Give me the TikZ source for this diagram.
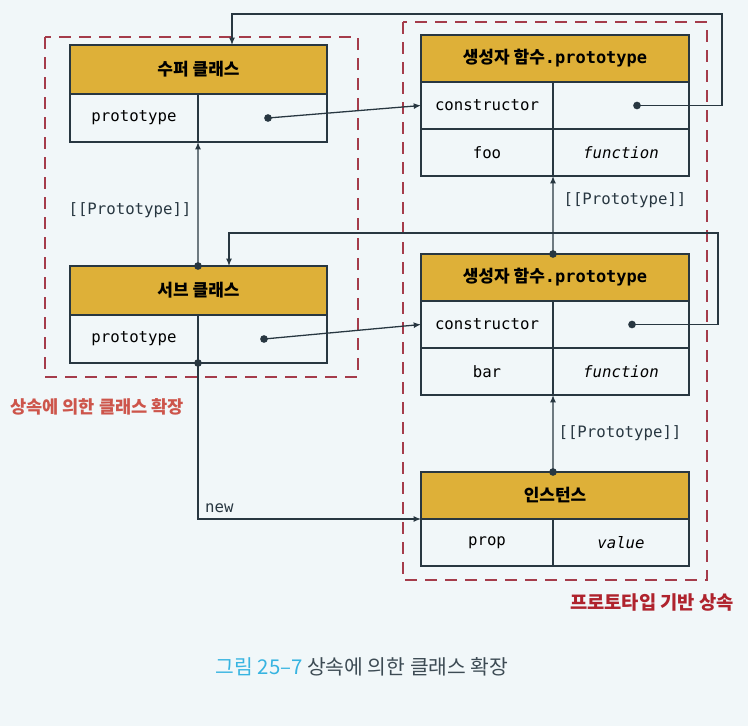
\documentclass[tikz,border=0pt]{standalone}
\usepackage{fontspec}
\setmonofont{DejaVu Sans Mono}
\newfontfamily\kr{Noto Sans CJK KR}
\usetikzlibrary{arrows.meta}
\definecolor{ln}{RGB}{40,55,65}
\definecolor{gold}{RGB}{222,176,56}
\definecolor{grpc}{RGB}{165,60,75}
\definecolor{lred}{RGB}{205,85,75}
\definecolor{dred}{RGB}{175,35,45}
\definecolor{capc}{RGB}{55,180,225}
\definecolor{bgc}{RGB}{241,247,249}
\newcommand\hdfont{\bfseries\fontsize{14.5}{17}\selectfont}
\newcommand\clfont{\ttfamily\fontsize{13.4}{16}\selectfont}
\tikzset{hd/.style={draw=ln,fill=gold,line width=1pt,anchor=north west,inner sep=0pt,outer sep=0pt,font=\hdfont}}
\tikzset{cl/.style={draw=ln,line width=1pt,anchor=north west,inner sep=0pt,outer sep=0pt,font=\clfont}}
\tikzset{lw/.style={cl,minimum width=3.84cm,minimum height=1.44cm}}
\tikzset{rw/.style={cl,minimum width=3.87cm,minimum height=1.44cm}}
\tikzset{lr/.style={cl,minimum width=3.96cm,minimum height=1.41cm}}
\tikzset{rr/.style={cl,minimum width=4.08cm,minimum height=1.41cm}}
\tikzset{dt/.style={circle,fill=ln,inner sep=0pt,minimum size=2.3mm}}
\tikzset{ar/.style={draw=ln,line width=1.1pt,-{Latex[length=2.2mm,width=1.8mm]}}}
\tikzset{grp/.style={draw=grpc,line width=1.1pt,dash pattern=on 3.6mm off 2.4mm}}
\tikzset{lb/.style={font=\clfont,text=ln}}

\begin{document}
\begin{tikzpicture}[x=0.03cm,y=-0.03cm]
      \fill[bgc] (0,0) rectangle (748,726);
      \useasboundingbox (0,0) rectangle (748,726);
      \draw[grp] (45,37) rectangle (358,377);
      \draw[grp] (403,22) rectangle (707,580);
      \node[hd,minimum width=7.71cm,minimum height=1.47cm] (sh) at (70,45) {{\kr 수퍼 클래스}};
      \node[lw] (sp) at (70,94) {prototype};
      \node[rw] (sv) at (198,94) {};
      \node[hd,minimum width=7.71cm,minimum height=1.47cm] (bh) at (70,266) {{\kr 서브 클래스}};
      \node[lw] (bp) at (70,315) {prototype};
      \node[rw] (bv) at (198,315) {};
      \node[hd,minimum width=8.04cm,minimum height=1.41cm] (ch) at (421,35) {{\kr 생성자 함수}{\ttfamily .prototype}};
      \node[lr] (cc) at (421,82) {constructor};
      \node[rr] (ccv) at (553,82) {};
      \node[lr] (cf) at (421,129) {foo};
      \node[rr] (cfv) at (553,129) {\itshape function};
      \node[hd,minimum width=8.04cm,minimum height=1.41cm] (dh) at (421,254) {{\kr 생성자 함수}{\ttfamily .prototype}};
      \node[lr] (dc) at (421,301) {constructor};
      \node[rr] (dcv) at (553,301) {};
      \node[lr] (db) at (421,348) {bar};
      \node[rr] (dbv) at (553,348) {\itshape function};
      \node[hd,minimum width=8.04cm,minimum height=1.41cm] (ih) at (421,472) {{\kr 인스턴스}};
      \node[lr] (ip) at (421,519) {prop};
      \node[rr] (iv) at (553,519) {\itshape value};
      \node[dt] (sd) at (268,118) {};
      \node[dt] (bd) at (264,339) {};
      \node[dt] (cd) at (637,105.5) {};
      \node[dt] (dd) at (632,324.5) {};
      \node[dt] (bt) at (198,266) {};
      \node[dt] (bb) at (198,363) {};
      \node[dt] (dtop) at (553,254) {};
      \node[dt] (itop) at (553,472) {};
      \coordinate (k1) at (722,14);
      \coordinate (s1) at (232,45);
      \coordinate (k2) at (718,233);
      \coordinate (s2) at (229,266);
      \draw[ar] (sd.center) -- (cc.west);
      \draw[ar] (bd.center) -- (dc.west);
      \draw[ar] (cd.center) -| (k1) -| (s1);
      \draw[ar] (dd.center) -| (k2) -| (s2);
      \foreach \a/\b in {bt/sp,dtop/cf,itop/db}
        \draw[ar] (\a.center) -- (\b.south east);
      \draw[ar] (bb.center) |- (ip.north west);
      \node[lb,anchor=south west] (nw) at (201,517) {new};
      \node[lb] (p1) at (130,210) {[[Prototype]]};
      \node[lb] (p2) at (625,200) {[[Prototype]]};
      \node[lb] (p3) at (620,433) {[[Prototype]]};
      \node[font=\kr\bfseries\fontsize{15}{17}\selectfont,text=lred] (g1) at (97,407) {상속에 의한 클래스 확장};
      \node[font=\kr\bfseries\fontsize{16}{18}\selectfont,text=dred] (g2) at (652,602) {프로토타입 기반 상속};
      \node[font=\kr\fontsize{17.4}{20}\selectfont,text=ln!90] (cap) at (362,667) {\textcolor{capc}{그림 25–7} 상속에 의한 클래스 확장};
    \end{tikzpicture}
\end{document}
